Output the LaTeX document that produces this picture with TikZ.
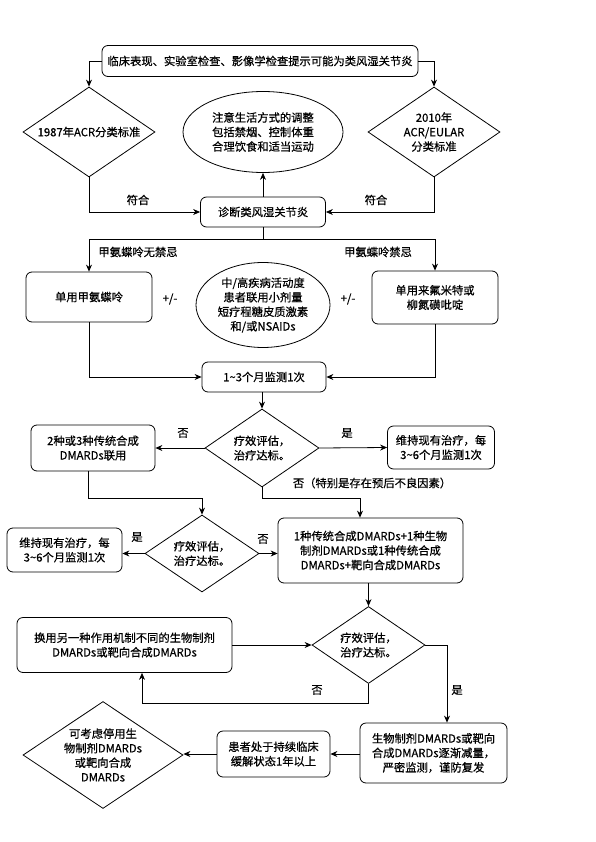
\documentclass[tikz,border=0pt]{standalone}
\usepackage{fontspec}
\setmainfont{Noto Sans CJK SC}[RawFeature={embolden=0.6}]
\usetikzlibrary{shapes.geometric,arrows.meta}
\begin{document}
\begin{tikzpicture}[x=1pt,y=-1pt,
  every node/.style={font=\fontsize{11.3}{14.5}\selectfont, align=center, inner sep=0pt},
  box/.style={draw, rounded corners=6pt, line width=0.8pt},
  diam/.style={draw, diamond, line width=0.8pt},
  ell/.style={draw, ellipse, line width=0.8pt},
  arr/.style={line width=0.8pt, -{Stealth[length=7pt,width=6pt]}},
  ln/.style={line width=0.8pt},
  lbl/.style={}]
\useasboundingbox[fill=white] (0,0) rectangle (595,842);

% top row
\node[box, minimum width=316pt, minimum height=31pt] (top) at (260,61) {临床表现、实验室检查、影像学检查提示可能为类风湿关节炎};
\node[diam, minimum width=132pt, minimum height=90pt] (d1) at (89,132) {};
\node at (d1) {1987年ACR分类标准};
\node[diam, minimum width=132pt, minimum height=90pt] (d2) at (434,132) {};
\node at (d2) {2010年\\ACR/EULAR\\分类标准};
\node[ell, minimum width=160pt, minimum height=81pt] (e1) at (263,132) {};
\node at (e1) {注意生活方式的调整\\包括禁烟、控制体重\\合理饮食和适当运动};
\node[box, minimum width=125pt, minimum height=30pt] (diag) at (263,212) {诊断类风湿关节炎};

\draw[arr] (top.west) -| (d1.north);
\draw[arr] (top.east) -| (d2.north);
\draw[arr] (d1.south) |- (diag.west);
\draw[arr] (d2.south) |- (diag.east);
\draw[arr] (diag.north) -- (e1.south);
\node[lbl] (fh1) at (138,200) {符合};
\node[lbl] (fh2) at (376,200) {符合};

% second row
\node[box, minimum width=126pt, minimum height=50pt] (m1) at (89,297) {单用甲氨蝶呤};
\node[box, minimum width=126pt, minimum height=53pt] (m2) at (435,297.5) {单用来氟米特或\\柳氮磺吡啶};
\node[ell, minimum width=134pt, minimum height=85pt] (e2) at (263,305) {};
\node at (e2) {中/高疾病活动度\\患者联用小剂量\\短疗程糖皮质激素\\和/或NSAIDs};
\node[lbl] (pm1) at (170,299) {+/-};
\node[lbl] (pm2) at (348,299) {+/-};
\coordinate (s1) at (263,239);
\draw[ln] (diag.south) -- (s1);
\draw[arr] (s1) -| (m1.north);
\draw[arr] (s1) -| (m2.north);
\node[lbl] (nc1) at (138,252) {甲氨蝶呤无禁忌};
\node[lbl] (nc2) at (378,252) {甲氨蝶呤禁忌};

\node[box, minimum width=124pt, minimum height=30pt] (mon) at (264,377) {1\textasciitilde 3个月监测1次};
\draw[arr] (m1.south) |- (mon.west);
\draw[arr] (m2.south) |- (mon.east);

% third row
\node[diam, minimum width=114pt, minimum height=78pt] (q1) at (262,448) {};
\node at (q1) {疗效评估，\\治疗达标。};
\draw[arr] (mon.south -| q1.north) -- (q1.north);
\node[box, minimum width=124pt, minimum height=46pt] (c2) at (93,448) {2种或3种传统合成\\DMARDs联用};
\node[box, minimum width=107pt, minimum height=43pt] (k1) at (441,447.5) {维持现有治疗，每\\3\textasciitilde 6个月监测1次};
\draw[arr] (q1.west) -- (c2.east);
\draw[arr] (q1.east) -- (k1.west);
\node[lbl] (no1) at (183,433) {否};
\node[lbl] (yes1) at (347,433) {是};
\node[lbl] (no1b) at (372,483) {否（特别是存在预后不良因素）};

% fourth row
\node[diam, minimum width=114pt, minimum height=77pt] (q2) at (202,553.5) {};
\node at (q2) {疗效评估，\\治疗达标。};
\node[box, minimum width=115pt, minimum height=44pt] (k2) at (64.5,550) {维持现有治疗，每\\3\textasciitilde 6个月监测1次};
\node[box, minimum width=185pt, minimum height=65pt] (big) at (370.5,550.5) {1种传统合成DMARDs+1种生物\\制剂DMARDs或1种传统合成\\DMARDs+靶向合成DMARDs};
\coordinate (j1) at (360,498);
\coordinate (j2) at (88,498);
\draw[arr] (q1.south) |- (j1) -- (j1 |- big.north);
\draw[arr] (c2.south -| j2) -- (j2) -| (q2.north);
\draw[arr] (q2.west) -- (q2.west -| k2.east);
\draw[arr] (q2.east) -- (q2.east -| big.west);
\node[lbl] (yes2) at (137,537) {是};
\node[lbl] (no2) at (263,539) {否};

% fifth row
\node[diam, minimum width=113pt, minimum height=77pt] (q3) at (368.5,645) {};
\node at (q3) {疗效评估，\\治疗达标。};
\node[box, minimum width=215pt, minimum height=55pt] (sw) at (124.5,645) {换用另一种作用机制不同的生物制剂\\DMARDs或靶向合成DMARDs};
\draw[arr] (big.south -| q3.north) -- (q3.north);
\draw[arr] (sw.east) -- (q3.west);
\coordinate (j3) at (142,703);
\draw[arr] (q3.south) |- (j3) -- (j3 |- sw.south);
\node[lbl] (no3) at (317,690) {否};
\coordinate (j4) at (447,645);
\node[box, minimum width=147pt, minimum height=60pt] (tp) at (433.5,753) {生物制剂DMARDs或靶向\\合成DMARDs逐渐减量，\\严密监测，谨防复发};
\draw[arr] (q3.east) -- (j4) -- (j4 |- tp.north);
\node[lbl] (yes3) at (457,690) {是};

% bottom row
\node[box, minimum width=113pt, minimum height=46pt] (rem) at (273.5,754) {患者处于持续临床\\缓解状态1年以上};
\node[diam, minimum width=160pt, minimum height=107pt] (d4) at (103,755) {};
\node at (d4) {可考虑停用生\\物制剂DMARDs\\或靶向合成\\DMARDs};
\draw[arr] (tp.west |- rem.east) -- (rem.east);
\draw[arr] (rem.west) -- (rem.west -| d4.east);
\end{tikzpicture}
\end{document}
